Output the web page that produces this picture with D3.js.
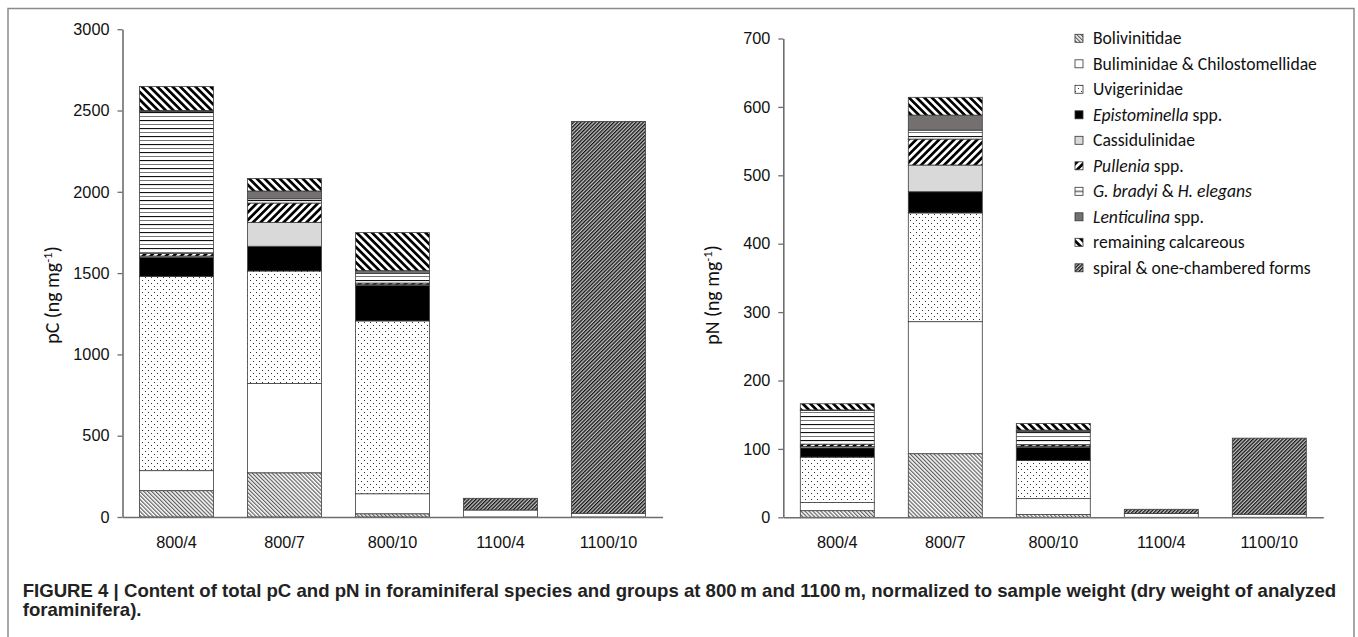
<!DOCTYPE html>
<html><head><meta charset="utf-8">
<script src="https://cdn.jsdelivr.net/npm/d3@7"></script>
<style>
body{margin:0;background:#fff;}
svg{display:block;font-family:Carlito, Lato, "Open Sans", sans-serif;}
</style></head><body>
<svg id="chart" width="1358" height="637"></svg>
<script>
// ---------- DATA ----------
const categories = ["800/4", "800/7", "800/10", "1100/4", "1100/10"];
const seriesKeys = ["boliv", "bulim", "uvig", "epist", "cassid", "pull", "gbrad", "lent", "remain", "spiral"];

// pC (ng mg-1), stacked bottom -> top
const pcBoliv  = [162, 272, 20, 0, 0];
const pcBulim  = [123, 549, 123, 43, 23];
const pcUvig   = [1195, 692, 1063, 0, 0];
const pcEpist  = [117, 152, 217, 0, 0];
const pcCassid = [8, 147, 6, 0, 0];
const pcPull   = [15, 119, 10, 0, 0];
const pcGbrad  = [875, 26, 58, 0, 0];
const pcLent   = [5, 48, 18, 0, 0];
const pcRemain = [148, 77, 234, 0, 0];
const pcSpiral = [0, 0, 0, 72, 2410];

// pN (ng mg-1)
const pnBoliv  = [9.7, 93, 4, 0, 0];
const pnBulim  = [11.8, 193, 23.3, 5.5, 4.5];
const pnUvig   = [66.5, 159, 55.7, 0, 0];
const pnEpist  = [13.5, 31, 19, 0, 0];
const pnCassid = [2, 39, 1.5, 0, 0];
const pnPull   = [3.5, 38, 2.5, 0, 0];
const pnGbrad  = [49, 13, 19, 0, 0];
const pnLent   = [1, 22, 2.5, 0, 0];
const pnRemain = [9, 26, 9.5, 0, 0];
const pnSpiral = [0, 0, 0, 6.2, 111.2];

const pcTicks = [0, 500, 1000, 1500, 2000, 2500, 3000];
const pnTicks = [0, 100, 200, 300, 400, 500, 600, 700];

const legendLabels = [
  [["Bolivinitidae", false]],
  [["Buliminidae & Chilostomellidae", false]],
  [["Uvigerinidae", false]],
  [["Epistominella", true], [" spp.", false]],
  [["Cassidulinidae", false]],
  [["Pullenia", true], [" spp.", false]],
  [["G. bradyi", true], [" & ", false], ["H. elegans", true]],
  [["Lenticulina", true], [" spp.", false]],
  [["remaining calcareous", false]],
  [["spiral & one-chambered forms", false]]
];
const captionLines = [
  "FIGURE 4 | Content of total pC and pN in foraminiferal species and groups at 800\u2009m and 1100\u2009m, normalized to sample weight (dry weight of analyzed",
  "foraminifera)."
];

// ---------- BUILD TABLES ----------
const pcSeries = [pcBoliv, pcBulim, pcUvig, pcEpist, pcCassid, pcPull, pcGbrad, pcLent, pcRemain, pcSpiral];
const pnSeries = [pnBoliv, pnBulim, pnUvig, pnEpist, pnCassid, pnPull, pnGbrad, pnLent, pnRemain, pnSpiral];
function table(series) {
  return categories.map((c, i) => {
    const row = {cat: c};
    seriesKeys.forEach((k, j) => row[k] = series[j][i]);
    return row;
  });
}

const svg = d3.select("#chart");
const defs = svg.append("defs");

// ---------- PATTERNS ----------
function stripes(id, period, lineW, angle, fg, bg) {
  const p = defs.append("pattern").attr("id", id).attr("patternUnits", "userSpaceOnUse")
    .attr("width", period).attr("height", period).attr("patternTransform", `rotate(${angle})`);
  p.append("rect").attr("width", period).attr("height", period).attr("fill", bg);
  p.append("rect").attr("x", 0).attr("width", lineW).attr("height", period).attr("fill", fg);
}
stripes("p-boliv", 2.8, 1.2, -45, "#5e5e5e", "#ffffff");
stripes("p-remain", 5.4, 2.7, -45, "#000000", "#ffffff");
stripes("p-pull", 5.4, 2.7, 45, "#000000", "#ffffff");
stripes("p-spiral", 2.6, 1.3, 45, "#141414", "#c4c4c4");
(function(){
  const p = defs.append("pattern").attr("id", "p-uvig").attr("patternUnits", "userSpaceOnUse")
    .attr("width", 6).attr("height", 6);
  p.append("rect").attr("width", 6).attr("height", 6).attr("fill", "#fff");
  p.append("rect").attr("x", 1).attr("y", 1).attr("width", 1).attr("height", 1).attr("fill", "#333");
  p.append("rect").attr("x", 4).attr("y", 4).attr("width", 1).attr("height", 1).attr("fill", "#333");
})();
(function(){
  const p = defs.append("pattern").attr("id", "p-gbrad").attr("patternUnits", "userSpaceOnUse")
    .attr("width", 8).attr("height", 8);
  p.append("rect").attr("width", 8).attr("height", 8).attr("fill", "#fff");
  p.append("rect").attr("y", 0).attr("width", 8).attr("height", 1.1).attr("fill", "#111");
  p.append("rect").attr("y", 4).attr("width", 8).attr("height", 1).attr("fill", "#777");
})();
(function(){
  const p = defs.append("pattern").attr("id", "p-gbrad-leg").attr("patternUnits", "objectBoundingBox")
    .attr("width", 1).attr("height", 1);
  p.append("rect").attr("width", 9).attr("height", 9).attr("fill", "#fff");
  p.append("rect").attr("y", 3.6).attr("width", 9).attr("height", 1).attr("fill", "#222");
})();

const fills = {
  boliv: "url(#p-boliv)", bulim: "#ffffff", uvig: "url(#p-uvig)", epist: "#000000",
  cassid: "#d9d9d9", pull: "url(#p-pull)", gbrad: "url(#p-gbrad)", lent: "#747070",
  remain: "url(#p-remain)", spiral: "url(#p-spiral)"
};

// ---------- FRAME ----------
svg.append("rect").attr("x", 8).attr("y", 8.5).attr("width", 1346).attr("height", 660)
  .attr("fill", "none").attr("stroke", "#8a8a8a").attr("stroke-width", 1.5);

// font fitting helper
function fitSize(str, family, weight, base, target) {
  const t = svg.append("text").style("font-family", family).style("font-weight", weight)
    .style("font-size", base + "px").text(str);
  const w = t.node().getComputedTextLength();
  t.remove();
  return base * target / w;
}
const labelFamily = 'Carlito, Lato, "Open Sans", sans-serif';
const tickFont = fitSize("3000", labelFamily, "normal", 14, 33);
const titleFont = fitSize("pC (ng mg-1)", labelFamily, "normal", 16, 103);
const legendFont = fitSize("Buliminidae & Chilostomellidae", labelFamily, "normal", 14, 224);

// ---------- PANEL ----------
const axisColor = "#6e6e6e";
function panel(opts) {
  const x = d3.scaleBand().domain(categories).range([opts.x0, opts.x1]).paddingInner(0.315).paddingOuter(0.1575);
  const y = d3.scaleLinear().domain([0, opts.max]).range([opts.yBottom, opts.yTop]);
  const g = svg.append("g");
  const stacked = d3.stack().keys(seriesKeys)(table(opts.series));
  g.selectAll("g.layer").data(stacked).join("g").attr("class", "layer")
    .attr("fill", d => fills[d.key])
    .selectAll("rect").data(d => d.filter(s => s[1] - s[0] > 0)).join("rect")
    .attr("x", d => x(d.data.cat))
    .attr("width", x.bandwidth())
    .attr("y", d => y(d[1]))
    .attr("height", d => y(d[0]) - y(d[1]))
    .attr("stroke", "#3c3c3c").attr("stroke-width", 0.8);

  // y axis
  const ya = g.append("g").attr("transform", `translate(${opts.x0},0)`)
    .call(d3.axisLeft(y).tickValues(opts.ticks).tickSize(5).tickSizeOuter(0).tickPadding(8).tickFormat(d3.format("d")));
  ya.select(".domain").attr("stroke", axisColor).attr("stroke-width", 1.6);
  ya.selectAll(".tick line").attr("stroke", axisColor).attr("stroke-width", 1.3);
  ya.selectAll(".tick text").attr("fill", "#111").style("font-size", tickFont + "px");

  // x axis
  const xa = g.append("g").attr("transform", `translate(0,${opts.yBottom})`)
    .call(d3.axisBottom(x).tickSize(0).tickPadding(19));
  xa.select(".domain").attr("stroke", axisColor).attr("stroke-width", 1.6);
  xa.selectAll(".tick text").attr("fill", "#111").style("font-size", tickFont + "px");

  // y title
  const t = g.append("text").attr("transform", `translate(${opts.titleX},295) rotate(-90)`)
    .attr("text-anchor", "middle").attr("dy", "0.35em").attr("fill", "#111")
    .style("font-size", titleFont + "px");
  t.append("tspan").text(opts.title + " (ng mg");
  t.append("tspan").attr("baseline-shift", "super").style("font-size", (titleFont * 0.65) + "px").text("-1");
  t.append("tspan").text(")");
  return {x, y};
}

panel({x0: 122.5, x1: 662.5, yBottom: 517, yTop: 29.2, max: 3000, ticks: pcTicks,
       series: pcSeries, title: "pC", titleX: 52});
panel({x0: 783.3, x1: 1323.3, yBottom: 517.3, yTop: 38.5, max: 700, ticks: pnTicks,
       series: pnSeries, title: "pN", titleX: 712});

// ---------- LEGEND ----------
const leg = svg.append("g");
legendLabels.forEach((parts, i) => {
  const cy = 38.3 + i * 25.5;
  const key = seriesKeys[i];
  leg.append("rect").attr("x", 1075).attr("y", cy - 4).attr("width", 8).attr("height", 8)
    .attr("fill", key === "gbrad" ? "url(#p-gbrad-leg)" : fills[key])
    .attr("stroke", "#333").attr("stroke-width", 0.8);
  const t = leg.append("text").attr("x", 1093).attr("y", cy).attr("dy", "0.35em")
    .attr("fill", "#111").style("font-size", legendFont + "px");
  parts.forEach(([s, it]) => t.append("tspan").style("font-style", it ? "italic" : "normal").text(s));
});

// ---------- CAPTION ----------
const capFamily = '"Liberation Sans", Arial, Helvetica, sans-serif';
const capFont = fitSize(captionLines[0], capFamily, "bold", 17, 1314);
svg.append("g").selectAll("text").data(captionLines).join("text")
  .attr("x", 22.7).attr("y", (d, i) => 597 + i * 19)
  .style("font-family", capFamily).style("font-weight", "bold")
  .style("font-size", capFont + "px").attr("fill", "#222")
  .text(d => d);
</script>
</body></html>
